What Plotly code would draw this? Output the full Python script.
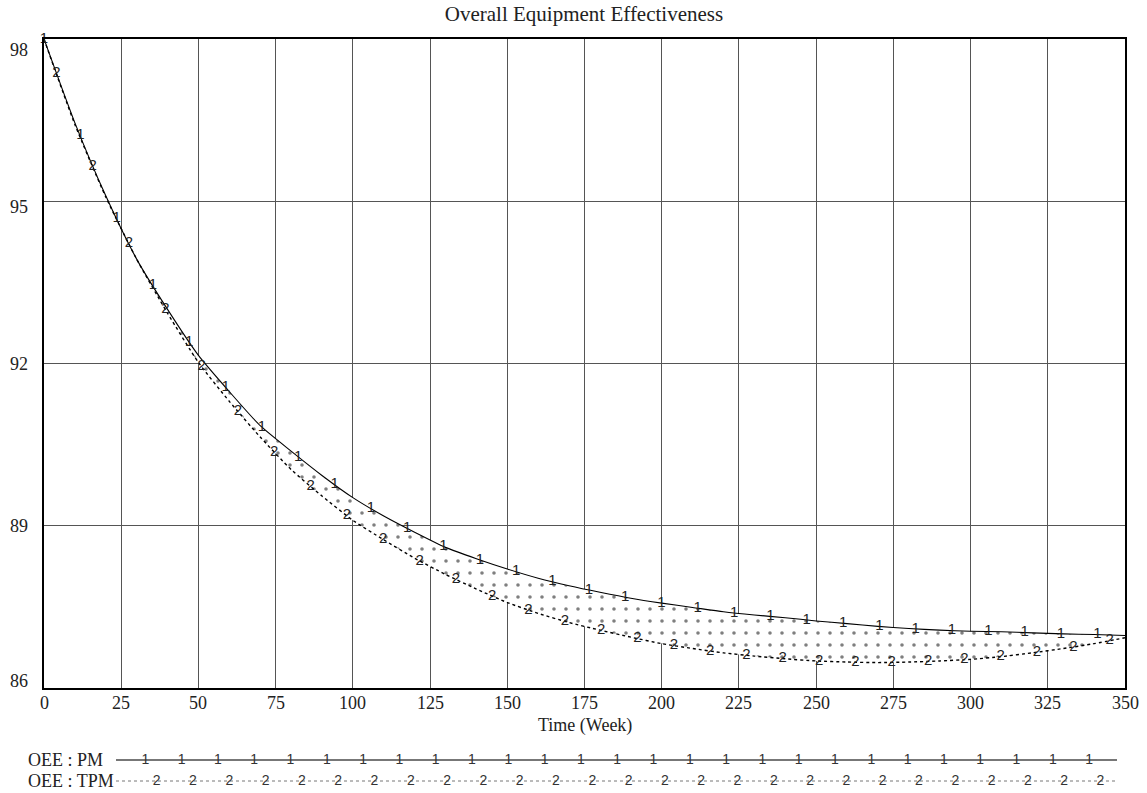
import numpy as np
import plotly.graph_objects as go

# ---------------- data ----------------
weeks = list(range(0, 351, 10))
oee_pm = [98.0, 96.45, 95.1, 93.93, 93.0, 92.15, 91.48, 90.85, 90.38, 89.93,
          89.52, 89.18, 88.88, 88.6, 88.39, 88.2, 88.03, 87.89, 87.77, 87.66,
          87.57, 87.49, 87.41, 87.35, 87.3, 87.24, 87.19, 87.14, 87.1, 87.07,
          87.05, 87.04, 87.02, 87.0, 86.99, 86.97]
oee_tpm = [98.0, 96.42, 95.08, 93.93, 92.93, 92.02, 91.3, 90.64, 90.04, 89.55,
           89.1, 88.74, 88.4, 88.1, 87.83, 87.58, 87.38, 87.21, 87.07, 86.94,
           86.82, 86.73, 86.65, 86.59, 86.54, 86.5, 86.48, 86.47, 86.48, 86.5,
           86.53, 86.58, 86.65, 86.73, 86.82, 86.93]
x_ticks = list(range(0, 351, 25))
y_ticks = [86, 89, 92, 95, 98]
series_names = ["OEE : PM", "OEE : TPM"]
series_ids = ["1", "2"]
title = "Overall Equipment Effectiveness"
x_title = "Time (Week)"

# ---------------- layout constants (window pixel coords) ----------------
W, H = 1147, 793
plot_l, plot_r, plot_t, plot_b = 44, 1125, 39, 688
ML, MR, MT, MB = plot_l, W - plot_r, plot_t, 0
plot_w = plot_r - plot_l
paper_h = H - MT - MB
main_y0 = (H - MB - plot_b) / paper_h

# vertical nudges of the y tick labels (Vensim keeps end labels inside the frame)
ytick_shift = {98: -11, 95: -6, 92: 0, 89: 0, 86: 7}

label_step = 11.76
pm_label_t = np.arange(0, 350, label_step)
tpm_label_t = np.arange(4, 350, label_step)

serif = "Liberation Serif, Times New Roman, serif"
sans = "Liberation Sans, Arial, sans-serif"
txt = "#222"

fig = go.Figure()

fig.add_trace(go.Scatter(x=weeks, y=oee_pm, mode="lines",
                         line=dict(color="black", width=1.1, shape="spline", smoothing=0.6),
                         showlegend=False, hoverinfo="skip"))
fig.add_trace(go.Scatter(x=weeks, y=oee_tpm, mode="lines", fill="tonexty",
                         fillpattern=dict(shape=".", size=12, solidity=0.07,
                                          fgcolor="black", bgcolor="white"),
                         fillcolor="white",
                         line=dict(color="black", width=1.4, dash="dot", shape="spline", smoothing=0.6),
                         showlegend=False, hoverinfo="skip"))

# series id labels along the curves
fig.add_trace(go.Scatter(x=pm_label_t, y=np.interp(pm_label_t, weeks, oee_pm),
                         mode="text", text=[series_ids[0]] * len(pm_label_t),
                         textfont=dict(family=sans, size=15, color=txt),
                         showlegend=False, hoverinfo="skip", cliponaxis=False))
fig.add_trace(go.Scatter(x=tpm_label_t, y=np.interp(tpm_label_t, weeks, oee_tpm),
                         mode="text", text=[series_ids[1]] * len(tpm_label_t),
                         textfont=dict(family=sans, size=15, color=txt),
                         showlegend=False, hoverinfo="skip", cliponaxis=False))

# y tick labels
for v in y_ticks:
    fig.add_annotation(text=str(v), xref="paper", x=0, xanchor="right", xshift=-14,
                       yref="y", y=v, yanchor="middle", yshift=ytick_shift[v], showarrow=False,
                       font=dict(family=serif, size=18, color=txt))

# x tick labels
for v in x_ticks:
    fig.add_annotation(text=str(v), xref="x", x=v, xanchor="center",
                       yref="paper", y=main_y0, yanchor="top", yshift=-3, showarrow=False,
                       font=dict(family=serif, size=18, color=txt))

# x axis title
fig.add_annotation(text=x_title, xref="paper", x=0.5, xanchor="center",
                   yref="paper", y=(H - MB - 725) / paper_h, yanchor="middle", showarrow=False,
                   font=dict(family=serif, size=18, color=txt))

# ---------------- custom legend (Vensim style) ----------------
leg_x0, leg_x1 = 116, 1117          # window-pixel extent of legend lines
leg_pm_first, leg_tpm_first, leg_step = 145.3, 156.7, 36.3
leg_pm_marks = np.arange(leg_pm_first, leg_x1 - 20, leg_step)
leg_tpm_marks = np.arange(leg_tpm_first, leg_x1 - 10, leg_step)
leg_pm_y, leg_tpm_y, leg_top = 760, 781, 745

fig.add_trace(go.Scatter(x=[leg_x0, leg_x1], y=[1, 1], mode="lines",
                         line=dict(color="#777", width=2),
                         xaxis="x2", yaxis="y2", showlegend=False, hoverinfo="skip"))
fig.add_trace(go.Scatter(x=[leg_x0, leg_x1], y=[0, 0], mode="lines",
                         line=dict(color="#777", width=1, dash="dot"),
                         xaxis="x2", yaxis="y2", showlegend=False, hoverinfo="skip"))
fig.add_trace(go.Scatter(x=leg_pm_marks, y=[1] * len(leg_pm_marks), mode="text",
                         text=[series_ids[0]] * len(leg_pm_marks),
                         textfont=dict(family=sans, size=14, color="#333"),
                         xaxis="x2", yaxis="y2", showlegend=False, hoverinfo="skip"))
fig.add_trace(go.Scatter(x=leg_tpm_marks, y=[0] * len(leg_tpm_marks), mode="text",
                         text=[series_ids[1]] * len(leg_tpm_marks),
                         textfont=dict(family=sans, size=14, color="#333"),
                         xaxis="x2", yaxis="y2", showlegend=False, hoverinfo="skip"))

for name, yv in zip(series_names, [1, 0]):
    fig.add_annotation(text=name, xref="paper", x=(26 - plot_l) / plot_w, xanchor="left",
                       yref="y2", y=yv, yanchor="middle", showarrow=False,
                       font=dict(family=serif, size=18, color=txt))

px_per_unit = leg_tpm_y - leg_pm_y
leg_dom_top = (H - MB - leg_top) / paper_h
y2_lo = -(H - MB - leg_tpm_y) / px_per_unit
y2_hi = 1 + (leg_pm_y - leg_top) / px_per_unit

fig.update_layout(
    width=W, height=H,
    margin=dict(l=ML, r=MR, t=MT, b=MB, autoexpand=False),
    paper_bgcolor="white", plot_bgcolor="white",
    title=dict(text=title, x=(584 - plot_l) / plot_w, xref="paper", xanchor="center",
               y=1 - 14 / H, yanchor="middle",
               font=dict(family=serif, size=21, color=txt)),
    xaxis=dict(range=[0, 350], tickvals=x_ticks, showticklabels=False, showgrid=True,
               gridcolor="#555", gridwidth=1, zeroline=False, showline=True, linecolor="black",
               linewidth=2, mirror=True, ticks="", anchor="y"),
    yaxis=dict(range=[86, 98], tickvals=y_ticks, showticklabels=False, domain=[main_y0, 1],
               showgrid=True, gridcolor="#555", gridwidth=1, zeroline=False, showline=True,
               linecolor="black", linewidth=2, mirror=True, anchor="x"),
    xaxis2=dict(domain=[(leg_x0 - plot_l) / plot_w, (leg_x1 - plot_l) / plot_w],
                range=[leg_x0, leg_x1], visible=False, anchor="y2"),
    yaxis2=dict(domain=[0, leg_dom_top], range=[y2_lo, y2_hi], visible=False, anchor="x2"),
)

fig.write_html("out.html", config={"displayModeBar": False},
               post_script="document.body.style.margin='0px';")
